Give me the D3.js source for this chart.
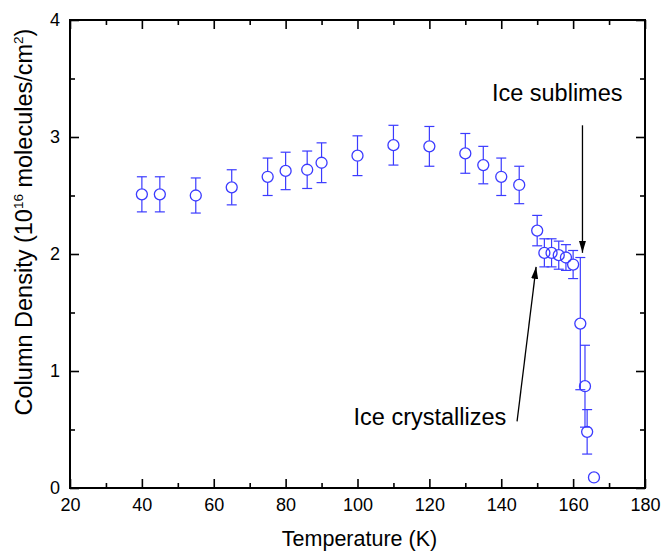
<!DOCTYPE html>
<html>
<head>
<meta charset="utf-8">
<script src="https://cdn.jsdelivr.net/npm/d3@7/dist/d3.min.js"></script>
<style>
  html, body { margin: 0; padding: 0; background: #fff; }
  svg { display: block; font-family: "Liberation Sans", Arial, sans-serif; }
</style>
</head>
<body>
<div id="chart"></div>
<script>
// Column density of ice vs temperature
var temps   = [40, 45, 55, 65, 75, 80, 86, 90, 100, 110, 120, 130, 135, 140, 145,
               150, 152, 154, 156, 158, 160, 162, 163.3, 163.9, 165.8];
var density = [2.51, 2.51, 2.50, 2.57, 2.66, 2.71, 2.72, 2.78, 2.84, 2.93, 2.92, 2.86, 2.76, 2.66, 2.59,
               2.20, 2.01, 2.01, 1.99, 1.97, 1.91, 1.405, 0.87, 0.48, 0.09];
var errors  = [0.15, 0.15, 0.15, 0.15, 0.16, 0.16, 0.16, 0.17, 0.17, 0.17, 0.17, 0.17, 0.16, 0.16, 0.16,
               0.13, 0.12, 0.12, 0.12, 0.11, 0.12, 0.565, 0.35, 0.19, 0];

var xTicks = [20, 40, 60, 80, 100, 120, 140, 160, 180];
var yTicks = [0, 1, 2, 3, 4];

// annotations: [text, textX, textY, fromX, fromY, toX, toY] in data units
var notes = [
    ['Ice sublimes',     137.4, 3.31, 162.6, 3.10, 162.6, 2.01],
    ['Ice crystallizes',  98.9, 0.54, 144.4, 0.57, 149.7, 1.89]
];

var W = 663, H = 551;
var m = { left: 70, right: 18, top: 20, bottom: 63 };
var blue = '#3b3bff';

var svg = d3.select('#chart').append('svg')
    .attr('width', W).attr('height', H);

var x = d3.scaleLinear().domain([20, 180]).range([m.left, W - m.right]);
var y = d3.scaleLinear().domain([0, 4]).range([H - m.bottom, m.top]);

var data = temps.map(function (t, i) {
    return { t: t, v: density[i], e: errors[i] };
});

// ticks inside on all four sides
function ticks(axis, minor) {
    return axis.tickSizeInner(-(minor ? 5 : 9)).tickSizeOuter(0).tickPadding(10);
}
var xMinor = d3.range(30, 180, 20), yMinor = d3.range(0.5, 4, 1);

svg.append('g').attr('transform', 'translate(0,' + y(0) + ')')
    .call(ticks(d3.axisBottom(x).tickValues(xTicks).tickFormat(d3.format('d'))));
svg.append('g').attr('transform', 'translate(0,' + y(0) + ')')
    .call(ticks(d3.axisBottom(x).tickValues(xMinor).tickFormat(''), true));
svg.append('g').attr('transform', 'translate(0,' + y(4) + ')')
    .call(ticks(d3.axisTop(x).tickValues(xTicks).tickFormat('')));
svg.append('g').attr('transform', 'translate(0,' + y(4) + ')')
    .call(ticks(d3.axisTop(x).tickValues(xMinor).tickFormat(''), true));
svg.append('g').attr('transform', 'translate(' + x(20) + ',0)')
    .call(ticks(d3.axisLeft(y).tickValues(yTicks).tickFormat(d3.format('d'))));
svg.append('g').attr('transform', 'translate(' + x(20) + ',0)')
    .call(ticks(d3.axisLeft(y).tickValues(yMinor).tickFormat(''), true));
svg.append('g').attr('transform', 'translate(' + x(180) + ',0)')
    .call(ticks(d3.axisRight(y).tickValues(yTicks).tickFormat('')));
svg.append('g').attr('transform', 'translate(' + x(180) + ',0)')
    .call(ticks(d3.axisRight(y).tickValues(yMinor).tickFormat(''), true));

svg.selectAll('.domain').remove();
svg.selectAll('.tick line').attr('stroke', '#000').attr('stroke-width', 1.6);
svg.selectAll('.tick text').attr('font-size', 18).attr('fill', '#000')
    .attr('font-family', '"Liberation Sans", Arial, sans-serif');

// frame
svg.append('rect')
    .attr('x', x(20)).attr('y', y(4))
    .attr('width', x(180) - x(20)).attr('height', y(0) - y(4))
    .attr('fill', 'none').attr('stroke', '#000').attr('stroke-width', 2);

// error bars (split around the marker)
var r = 5.5;
var eb = svg.append('g').attr('stroke', blue).attr('stroke-width', 1.2).attr('fill', 'none');
data.filter(function (d) { return d.e > 0; }).forEach(function (d) {
    var cx = x(d.t), cy = y(d.v), top = y(d.v + d.e), bot = y(d.v - d.e);
    eb.append('line').attr('x1', cx).attr('x2', cx).attr('y1', top).attr('y2', cy - r);
    eb.append('line').attr('x1', cx).attr('x2', cx).attr('y1', cy + r).attr('y2', bot);
    eb.append('line').attr('x1', cx - 5).attr('x2', cx + 5).attr('y1', top).attr('y2', top);
    eb.append('line').attr('x1', cx - 5).attr('x2', cx + 5).attr('y1', bot).attr('y2', bot);
});

svg.append('g').selectAll('circle').data(data).enter().append('circle')
    .attr('cx', function (d) { return x(d.t); })
    .attr('cy', function (d) { return y(d.v); })
    .attr('r', r)
    .attr('fill', 'none')
    .attr('stroke', blue)
    .attr('stroke-width', 1.3);

// annotations
svg.append('defs').append('marker')
    .attr('id', 'arrow')
    .attr('viewBox', '0 -4 12 8')
    .attr('refX', 12).attr('refY', 0)
    .attr('markerWidth', 12).attr('markerHeight', 8)
    .attr('markerUnits', 'userSpaceOnUse')
    .attr('orient', 'auto')
    .append('path').attr('d', 'M0,-3.5L12,0L0,3.5Z').attr('fill', '#000');

notes.forEach(function (n) {
    svg.append('text')
        .attr('x', x(n[1])).attr('y', y(n[2]))
        .attr('font-size', 23.5).attr('fill', '#000')
        .text(n[0]);
    svg.append('line')
        .attr('x1', x(n[3])).attr('y1', y(n[4]))
        .attr('x2', x(n[5])).attr('y2', y(n[6]))
        .attr('stroke', '#000').attr('stroke-width', 1.3)
        .attr('marker-end', 'url(#arrow)');
});

// axis titles
svg.append('text')
    .attr('x', (x(20) + x(180)) / 2 + 2).attr('y', 546)
    .attr('text-anchor', 'middle').attr('font-size', 21.5)
    .text('Temperature (K)');

var yt = svg.append('text')
    .attr('transform', 'translate(32,222) rotate(-90)')
    .attr('text-anchor', 'middle').attr('font-size', 23.5);
yt.append('tspan').text('Column Density (10');
yt.append('tspan').attr('font-size', 13.5).attr('dy', -9.5).text('16');
yt.append('tspan').attr('dy', 9.5).text(' molecules/cm');
yt.append('tspan').attr('font-size', 13.5).attr('dy', -9.5).text('2');
yt.append('tspan').attr('dy', 9.5).text(')');
</script>
</body>
</html>
